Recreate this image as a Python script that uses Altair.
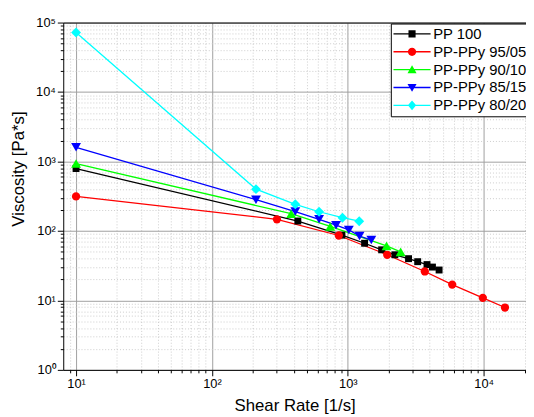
import altair as alt
import pandas as pd

series = ["PP 100", "PP-PPy 95/05", "PP-PPy 90/10", "PP-PPy 85/15", "PP-PPy 80/20"]
colors = ["#000000", "#ff0000", "#00ff00", "#0000ff", "#00ffff"]
shapes = ["square", "circle", "triangle-up", "triangle-down", "diamond"]
sizes = [49, 70, 100, 100, 100]

pp100_rate = [10, 429, 905, 1330, 1775, 2220, 2800, 3270, 3830, 4200, 4700]
pp100_visc = [792, 139, 87, 66.5, 53.5, 45.4, 39.9, 36.1, 32.8, 30.2, 27.4]

p9505_rate = [10, 301, 859, 1950, 3690, 5870, 9860, 14350]
p9505_visc = [314, 147, 86, 45.4, 26.1, 16.9, 10.9, 7.9]

p9010_rate = [10, 383, 743, 1928, 2450]
p9010_visc = [934, 177, 116, 61, 50]

p8515_rate = [10, 211, 411, 615, 820, 1018, 1220, 1490]
p8515_visc = [1600, 282, 190, 147, 121, 103.5, 84.5, 74]

p8020_rate = [10, 211, 411, 615, 914, 1214]
p8020_visc = [72000, 400, 242, 189, 155, 138]

x_major = [10, 100, 1000, 10000]
y_major = [1, 10, 100, 1000, 10000, 100000]
x_minor = [8, 9] + [m * d for d in [10, 100, 1000] for m in range(2, 10)] + [20000]
y_minor = [m * d for d in [1, 10, 100, 1000, 10000] for m in range(2, 10)]

rates = [pp100_rate, p9505_rate, p9010_rate, p8515_rate, p8020_rate]
viscs = [pp100_visc, p9505_visc, p9010_visc, p8515_visc, p8020_visc]

rows = []
for s, r, v in zip(series, rates, viscs):
    for a, b in zip(r, v):
        rows.append({"rate": a, "visc": b, "series": s})
df = pd.DataFrame(rows)

FONT = "Liberation Sans"
sup = "['\u2070','\u00b9','\u00b2','\u00b3','\u2074','\u2075']"
lab_expr = "'10' + " + sup + "[round(log(datum.value)/LN10)]"

xscale = alt.Scale(type="log", domain=[8.05, 20500], nice=False)
yscale = alt.Scale(type="log", domain=[1, 100000], nice=False)
cscale = alt.Scale(domain=series, range=colors)

bar = "M-4.7,-0.17H4.7V0.17H-4.7Z"
leg_paths = [
    bar + "M-0.9,-0.9H0.9V0.9H-0.9Z",
    bar + "M1.05,0C1.05,0.58,0.58,1.05,0,1.05C-0.58,1.05,-1.05,0.58,-1.05,0C-1.05,-0.58,-0.58,-1.05,0,-1.05C0.58,-1.05,1.05,-0.58,1.05,0Z",
    bar + "M0,-1.1L1.15,0.9H-1.15Z",
    bar + "M0,1.1L-1.15,-0.9H1.15Z",
    bar + "M0,-1.25L1.05,0L0,1.25L-1.05,0Z",
]

minor_x = alt.Axis(orient="bottom", values=x_minor, labels=False, domain=False,
                   tickSize=3, tickColor="black", grid=True, gridColor="#cccccc",
                   gridDash=[1, 2], gridWidth=1, title=None)
minor_y = alt.Axis(orient="left", values=y_minor, labels=False, domain=False,
                   tickSize=3, tickColor="black", grid=True, gridColor="#cccccc",
                   gridDash=[1, 2], gridWidth=1, title=None)
major_x = alt.Axis(orient="bottom", values=x_major, labelExpr=lab_expr, grid=True,
                   gridColor="#a0a0a0", gridWidth=1, tickSize=6, tickColor="black",
                   domainColor="black", labelFontSize=13, labelColor="black",
                   labelFont=FONT, labelFlush=False, labelPadding=2,
                   title="Shear Rate [1/s]", titleFont=FONT, titleFontSize=17,
                   titleFontWeight="normal", titleColor="black", titleY=28,
                   titleBaseline="top")
major_y = alt.Axis(orient="left", values=y_major, labelExpr=lab_expr, grid=True,
                   gridColor="#a0a0a0", gridWidth=1, tickSize=6, tickColor="black",
                   domainColor="black", labelFontSize=13, labelColor="black",
                   labelFont=FONT, labelFlush=False, labelPadding=2,
                   title="Viscosity [Pa*s]", titleFont=FONT, titleFontSize=17,
                   titleFontWeight="normal", titleColor="black", titleX=-36,
                   titleY=148)
top_x = alt.Axis(orient="top", domain=True, domainColor="black", ticks=False,
                 labels=False, grid=False, title=None)

leg = alt.Legend(title=None, orient="none", legendX=332, legendY=1, padding=3,
                 fillColor="white", strokeColor="black", symbolSize=64,
                 symbolStrokeWidth=0, symbolOffset=11, labelOffset=14,
                 labelFontSize=15, labelFont=FONT, labelColor="black",
                 rowPadding=2.1, symbolOpacity=1, labelLimit=300)

legend_layer = alt.Chart(df).transform_filter("false").mark_point(filled=True).encode(
    x=alt.X("rate:Q", scale=xscale, axis=top_x),
    y=alt.Y("visc:Q", scale=yscale, axis=None),
    color=alt.Color("series:N", scale=cscale, legend=leg),
    shape=alt.Shape("series:N", scale=alt.Scale(domain=series, range=leg_paths), legend=leg),
)

lines = alt.Chart(df).mark_line(strokeWidth=1.3).encode(
    x=alt.X("rate:Q", scale=xscale, axis=minor_x),
    y=alt.Y("visc:Q", scale=yscale, axis=minor_y),
    color=alt.Color("series:N", scale=cscale, legend=leg),
)

point_layers = []
for i, s in enumerate(series):
    point_layers.append(
        alt.Chart(df).transform_filter(alt.datum.series == s)
        .mark_point(shape=shapes[i], filled=True, size=sizes[i], opacity=1)
        .encode(
            x=alt.X("rate:Q", scale=xscale, axis=major_x if i == 0 else None),
            y=alt.Y("visc:Q", scale=yscale, axis=major_y if i == 0 else None),
            color=alt.Color("series:N", scale=cscale, legend=leg),
        )
    )

chart = alt.layer(legend_layer, lines, *point_layers).resolve_axis(
    x="independent", y="independent"
).properties(
    width=469, height=352,
    padding={"left": 56, "top": 12, "right": 0, "bottom": 45},
    autosize=alt.AutoSizeParams(type="none"),
    background="white",
).configure_view(stroke=None)

chart.save("out.html", embed_options={"renderer": "svg", "actions": False})
